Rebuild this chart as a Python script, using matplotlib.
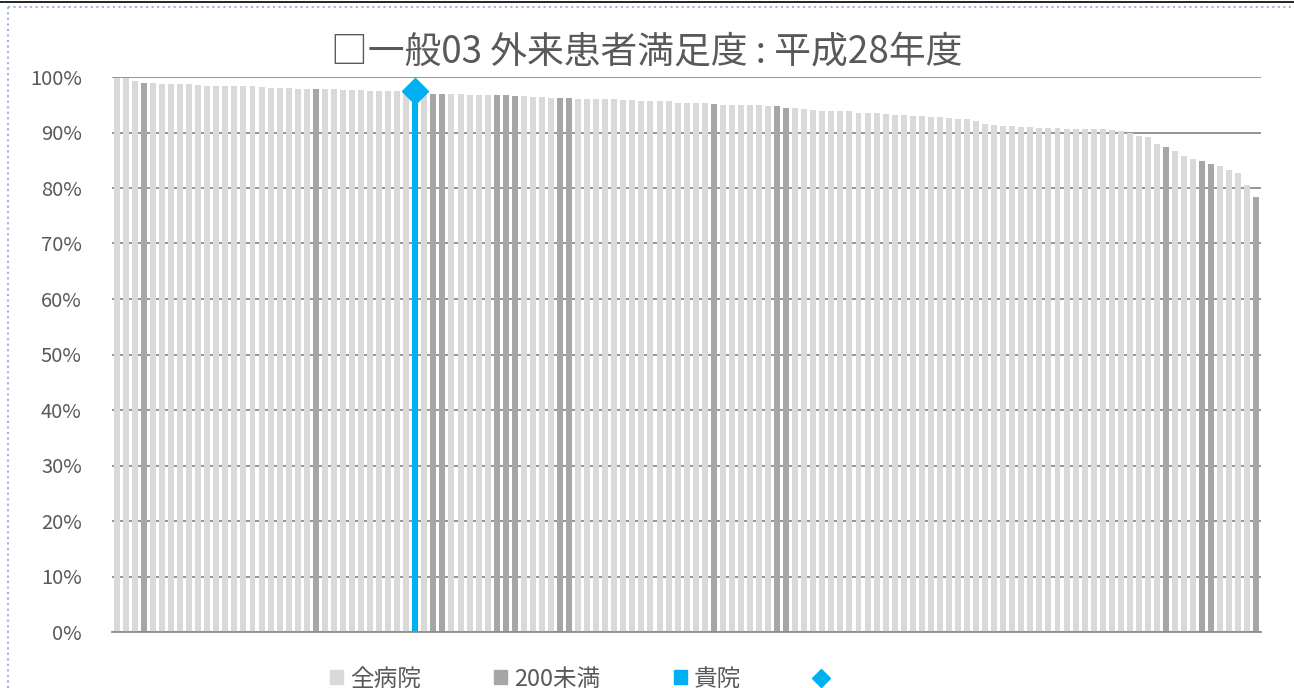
import numpy as np
import matplotlib
matplotlib.use("Agg")
import matplotlib.pyplot as plt
from matplotlib.patches import Patch
from matplotlib.lines import Line2D

plt.rcParams['font.family'] = ['Noto Sans CJK JP', 'DejaVu Sans']

# 各病院の満足度（％、降順）
values = [
    99.9, 99.9, 99.2, 98.9, 98.9, 98.8, 98.8, 98.7, 98.7, 98.5,
    98.4, 98.4, 98.4, 98.3, 98.3, 98.3, 98.2, 98.1, 98.0, 98.0,
    97.9, 97.8, 97.8, 97.8, 97.8, 97.6, 97.6, 97.6, 97.5, 97.5,
    97.5, 97.4, 97.4, 97.4, 97.0, 97.0, 97.0, 96.9, 96.9, 96.8,
    96.8, 96.8, 96.8, 96.7, 96.6, 96.5, 96.4, 96.4, 96.3, 96.2,
    96.2, 96.1, 96.0, 96.0, 96.0, 96.0, 95.9, 95.8, 95.7, 95.6,
    95.6, 95.6, 95.4, 95.4, 95.4, 95.3, 95.1, 95.0, 95.0, 94.9,
    94.9, 94.9, 94.7, 94.7, 94.4, 94.4, 94.2, 94.1, 93.9, 93.9,
    93.8, 93.8, 93.5, 93.5, 93.5, 93.3, 93.2, 93.1, 93.0, 93.0,
    92.8, 92.8, 92.7, 92.5, 92.5, 92.1, 91.5, 91.4, 91.2, 91.2,
    91.05, 91.0, 90.9, 90.8, 90.8, 90.7, 90.7, 90.7, 90.6, 90.6,
    90.4, 90.2, 90.0, 89.4, 89.1, 88.0, 87.4, 86.7, 85.8, 85.3,
    84.9, 84.3, 84.0, 83.2, 82.7, 80.5, 78.3,
]
small_idx = [3, 22, 35, 36, 42, 43, 44, 49, 50, 66, 73, 74, 116, 120, 121, 126]  # 200未満
own_idx = 33                                                                    # 貴院
legend_labels = ['全病院', '200未満', '貴院', '']
title = '□一般03 外来患者満足度 : 平成28年度'

c_all = '#d9d9d9'
c_small = '#a6a6a6'
c_own = '#00b0f0'
text_c = '#595959'

x = np.arange(len(values))
colors = [c_all] * len(values)
for i in small_idx:
    colors[i] = c_small
colors[own_idx] = c_own

fig = plt.figure(figsize=(12.94, 6.88), dpi=100)
ax = fig.add_axes([112.3/1294, 1-632/688, (1261-112.3)/1294, (632-77)/688])

ax.bar(x, np.array(values)/100, width=0.66, color=colors, zorder=2)
ax.plot(own_idx, values[own_idx]/100, marker='D', markersize=13, color=c_own,
        linestyle='none', zorder=3, clip_on=False)

ax.set_xlim(-0.5, len(values)-0.5)
ax.set_ylim(0, 1.0)
ax.set_yticks(np.arange(0, 1.01, 0.1))
ax.set_yticklabels([f'{int(round(v*100))}%' for v in np.arange(0, 1.01, 0.1)],
                   fontsize=14.5, color=text_c)
ax.tick_params(axis='y', length=0, pad=22)
ax.set_xticks([])
ax.grid(axis='y', color='#8c8c8c', linewidth=1.3, zorder=0)
ax.set_axisbelow(True)
for s in ['top', 'right', 'left']:
    ax.spines[s].set_visible(False)
ax.spines['bottom'].set_color('#8c8c8c')
ax.spines['bottom'].set_linewidth(1.3)

fig.text(0.5, 1-52/688, title, ha='center', va='center', fontsize=26.5, color=text_c)

handles = [Patch(color=c_all), Patch(color=c_small), Patch(color=c_own),
           Line2D([], [], marker='D', color=c_own, linestyle='none', markersize=9)]
fig.legend(handles, legend_labels, loc='center left', bbox_to_anchor=(330/1294, 9/688),
           ncol=4, frameon=False, fontsize=17, labelcolor=text_c, handlelength=0.55,
           handleheight=0.55, handletextpad=0.3, columnspacing=3.1, borderpad=0,
           borderaxespad=0)

# 枠線
fig.add_artist(Line2D([0, 1], [1-2/688, 1-2/688], color='black', linewidth=1.2))
fig.add_artist(Line2D([7.5/1294, 1], [1-6.5/688, 1-6.5/688], color='#9db5d8',
                      linewidth=1.5, linestyle=':'))
fig.add_artist(Line2D([7.5/1294, 7.5/1294], [0, 1-6.5/688], color='#9db5d8',
                      linewidth=1.5, linestyle=':'))

fig.savefig('out.png', dpi=100)
